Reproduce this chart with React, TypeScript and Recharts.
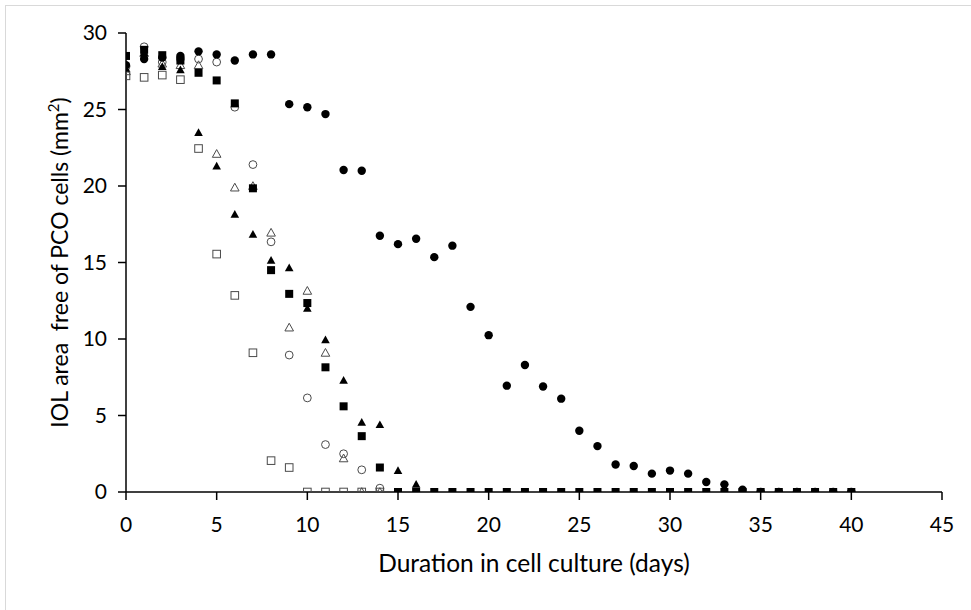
import React from "react";
import { ScatterChart, Scatter, XAxis, YAxis, Label } from "recharts";

const days = [0, 1, 2, 3, 4, 5, 6, 7, 8, 9, 10, 11, 12, 13, 14, 15, 16, 17, 18, 19, 20, 21, 22, 23, 24, 25, 26, 27, 28, 29, 30, 31, 32, 33, 34, 35, 36, 37, 38, 39, 40];

const xTicks = [0, 5, 10, 15, 20, 25, 30, 35, 40, 45];
const yTicks = [0, 5, 10, 15, 20, 25, 30];

const filledCircle = [27.9, 28.3, 28.4, 28.5, 28.8, 28.6, 28.2, 28.6, 28.6, 25.35, 25.15, 24.7, 21.05, 21.0, 16.75, 16.2, 16.55, 15.35, 16.1, 12.1, 10.25, 6.95, 8.3, 6.9, 6.1, 4.0, 3.0, 1.8, 1.7, 1.2, 1.4, 1.2, 0.65, 0.5, 0.15, 0, 0, 0, 0, 0, 0];
const openCircle = [27.8, 29.1, 28.1, 28.3, 28.3, 28.1, 25.15, 21.4, 16.35, 8.95, 6.15, 3.1, 2.5, 1.45, 0.25];
const filledTriangle = [27.7, 28.7, 27.8, 27.6, 23.5, 21.3, 18.15, 16.85, 15.15, 14.65, 12.0, 9.95, 7.3, 4.55, 4.4, 1.4, 0.5];
const openTriangle = [27.5, 28.7, 28.0, 27.9, 27.9, 22.1, 19.9, 20.0, 16.95, 10.75, 13.15, 9.1, 2.2, 0, 0];
const filledSquare = [28.5, 28.9, 28.55, 28.2, 27.4, 26.9, 25.4, 19.85, 14.5, 12.95, 12.35, 8.15, 5.6, 3.65, 1.6, 0, 0, 0, 0, 0, 0, 0, 0, 0, 0, 0, 0, 0, 0, 0, 0, 0, 0, 0, 0, 0, 0, 0, 0, 0, 0];
const openSquare = [27.2, 27.1, 27.25, 26.95, 22.45, 15.55, 12.85, 9.1, 2.05, 1.6, 0, 0, 0, 0, 0];

const toPoints = (vals: number[]) => vals.map((v, i) => ({ x: days[i], y: v }));

const FONT = "Lato, 'Open Sans', sans-serif";
const OPEN_STROKE = "#4a4a4a";
const TICK_SIZE = 21;
const TITLE_SIZE = 24.5;
const Y_TITLE_SIZE = 23;

const FilledCircleShape = (p: any) => <circle cx={p.cx} cy={p.cy} r={4.2} fill="#000" />;
const OpenCircleShape = (p: any) => (
  <circle cx={p.cx} cy={p.cy} r={3.9} fill="none" stroke={OPEN_STROKE} strokeWidth={1} />
);
const triPts = (cx: number, cy: number, s: number) =>
  `${cx},${cy - s} ${cx - s},${cy + s * 0.8} ${cx + s},${cy + s * 0.8}`;
const FilledTriangleShape = (p: any) => <polygon points={triPts(p.cx, p.cy, 4.3)} fill="#000" />;
const OpenTriangleShape = (p: any) => (
  <polygon points={triPts(p.cx, p.cy, 4.3)} fill="none" stroke={OPEN_STROKE} strokeWidth={1} />
);
const FilledSquareShape = (p: any) => <rect x={p.cx - 4} y={p.cy - 4} width={8} height={8} fill="#000" />;
const OpenSquareShape = (p: any) => (
  <rect x={p.cx - 3.8} y={p.cy - 3.8} width={7.6} height={7.6} fill="none" stroke={OPEN_STROKE} strokeWidth={1} />
);

const YTitle = (props: any) => {
  const vb = props.viewBox;
  const cx = vb.x + 2;
  const cy = vb.y + vb.height / 2;
  return (
    <text
      x={cx}
      y={cy}
      transform={`rotate(-90, ${cx}, ${cy})`}
      textAnchor="middle"
      fontFamily={FONT}
      fontSize={Y_TITLE_SIZE}
      fill="#000"
      style={{ whiteSpace: "pre" }}
    >
      <tspan>IOL area  free of PCO cells (mm</tspan>
      <tspan dy={-9} fontSize={15}>2</tspan>
      <tspan dy={9}>)</tspan>
    </text>
  );
};

const XTitle = (props: any) => {
  const vb = props.viewBox;
  return (
    <text
      x={vb.x + vb.width / 2}
      y={vb.y + 80}
      textAnchor="middle"
      fontFamily={FONT}
      fontSize={TITLE_SIZE}
      fill="#000"
    >
      Duration in cell culture (days)
    </text>
  );
};

export default function App() {
  return (
    <div style={{ position: "absolute", left: 0, top: 0, width: 971, height: 610, overflow: "hidden", background: "#fff" }}>
      <div style={{ position: "absolute", left: 5, top: 5, width: 1000, height: 1000, border: "1px solid #d9d9d9" }} />
      <div style={{ position: "absolute", left: 0, top: 0 }}>
        <ScatterChart width={971} height={610} margin={{ top: 33, right: 29, bottom: 88, left: 66 }}>
          <XAxis
            dataKey="x"
            type="number"
            domain={[0, 45]}
            ticks={xTicks}
            height={30}
            tickSize={8}
            tickMargin={17}
            axisLine={{ stroke: "#000", strokeWidth: 1.5 }}
            tickLine={{ stroke: "#000", strokeWidth: 1.5 }}
            tick={{ fill: "#000", fontSize: TICK_SIZE, fontFamily: FONT }}
            allowDataOverflow
          >
            <Label content={XTitle} />
          </XAxis>
          <YAxis
            dataKey="y"
            type="number"
            domain={[0, 30]}
            ticks={yTicks}
            width={60}
            tickSize={8}
            tickMargin={11}
            axisLine={{ stroke: "#000", strokeWidth: 1.5 }}
            tickLine={{ stroke: "#000", strokeWidth: 1.5 }}
            tick={{ fill: "#000", fontSize: TICK_SIZE, fontFamily: FONT }}
            allowDataOverflow
          >
            <Label content={YTitle} />
          </YAxis>
          <Scatter data={toPoints(openSquare)} shape={OpenSquareShape} isAnimationActive={false} />
          <Scatter data={toPoints(openTriangle)} shape={OpenTriangleShape} isAnimationActive={false} />
          <Scatter data={toPoints(openCircle)} shape={OpenCircleShape} isAnimationActive={false} />
          <Scatter data={toPoints(filledTriangle)} shape={FilledTriangleShape} isAnimationActive={false} />
          <Scatter data={toPoints(filledCircle)} shape={FilledCircleShape} isAnimationActive={false} />
          <Scatter data={toPoints(filledSquare)} shape={FilledSquareShape} isAnimationActive={false} />
        </ScatterChart>
      </div>
    </div>
  );
}
